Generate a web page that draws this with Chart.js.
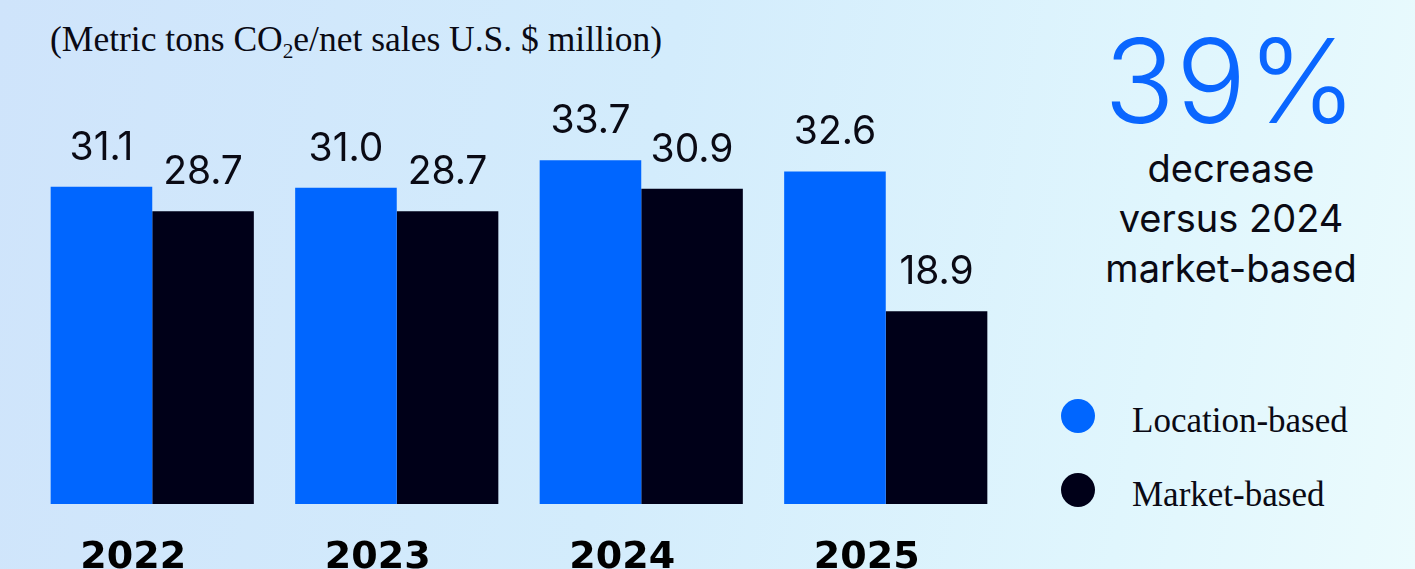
<!DOCTYPE html>
<html>
<head>
<meta charset="utf-8">
<script src="https://cdn.jsdelivr.net/npm/chart.js@4.4.1/dist/chart.umd.min.js"></script>
<style>
  html, body { margin: 0; padding: 0; }
  body {
    width: 1415px; height: 569px; overflow: hidden; position: relative;
    background: linear-gradient(100deg, #cfe4fb 0%, #d3ecfc 45%, #e0f6fd 80%, #ebfbfd 100%);
  }
  #subtitle {
    position: absolute; left: 50px; top: 18px; white-space: nowrap;
    font-family: "Liberation Serif", serif; font-size: 35.5px; color: #0a0a14;
  }
  #subtitle sub { font-size: 0.6em; vertical-align: -0.35em; line-height: 0; }
  #chartBox { position: absolute; left: 0; top: 0; width: 1020px; height: 600px; }
  #stat {
    position: absolute; left: 1050px; width: 362px; top: 0; text-align: center;
    font-family: Inter, "Noto Sans", sans-serif; color: #0a0a14;
  }
  #stat .big {
    position: absolute; left: 0; right: 0; top: 22px;
    font-size: 117px; font-weight: 300; color: #0a66ff; line-height: 1; letter-spacing: 1px;
  }
  #stat .desc {
    position: absolute; left: 0; right: 0; top: 143px;
    font-size: 38px; line-height: 50px; font-weight: 400;
  }
  #legend { position: absolute; left: 1061px; top: 399px; font-family: "Liberation Serif", serif; }
  .item { position: relative; height: 74px; }
  .dot { position: absolute; left: 0; top: 0; width: 34px; height: 34px; border-radius: 50%; }
  .lab { position: absolute; left: 71px; top: 2px; font-size: 35px; color: #0a0a14; white-space: nowrap; }
</style>
</head>
<body>
<div id="subtitle">(Metric tons CO<sub>2</sub>e/net sales U.S. $ million)</div>
<div id="chartBox"><canvas id="c"></canvas></div>
<div id="stat">
  <div class="big">39%</div>
  <div class="desc">decrease<br>versus 2024<br>market-based</div>
</div>
<div id="legend"></div>
<script>
// Emissions intensity per year, two accounting methods
const years = ['2022', '2023', '2024', '2025'];
const locationBased = [31.1, 31.0, 33.7, 32.6];
const marketBased = [28.7, 28.7, 30.9, 18.9];
const seriesNames = ['Location-based', 'Market-based'];
const seriesColors = ['#0066ff', '#000018'];

// Legend entries built from the series definitions
const legendEl = document.getElementById('legend');
seriesNames.forEach((name, i) => {
  const item = document.createElement('div');
  item.className = 'item';
  item.innerHTML = '<span class="dot" style="background:' + seriesColors[i] + '"></span><span class="lab">' + name + '</span>';
  legendEl.appendChild(item);
});

// Value labels drawn above each bar
const valueLabels = {
  id: 'valueLabels',
  afterDatasetsDraw(chart) {
    const ctx = chart.ctx;
    ctx.save();
    ctx.font = '400 39px Inter, "Noto Sans", sans-serif';
    ctx.fillStyle = '#0a0a14';
    ctx.textAlign = 'center';
    ctx.textBaseline = 'alphabetic';
    chart.data.datasets.forEach((ds, di) => {
      chart.getDatasetMeta(di).data.forEach((bar, i) => {
        ctx.fillText(ds.data[i].toFixed(1), bar.x, bar.y - 27);
      });
    });
    ctx.restore();
  }
};

function draw() {
  new Chart(document.getElementById('c'), {
    type: 'bar',
    data: {
      labels: years,
      datasets: [
        { label: seriesNames[0], data: locationBased, backgroundColor: seriesColors[0] },
        { label: seriesNames[1], data: marketBased, backgroundColor: seriesColors[1] }
      ]
    },
    options: {
      responsive: true,
      maintainAspectRatio: false,
      animation: false,
      layout: { padding: { left: 30, right: 12, top: 96, bottom: 0 } },
      datasets: { bar: { categoryPercentage: 0.831, barPercentage: 1.0, borderWidth: 0 } },
      plugins: { legend: { display: false }, tooltip: { enabled: false } },
      scales: {
        y: { display: false, min: 0, max: 40 },
        x: {
          grid: { display: false, drawTicks: false },
          border: { display: false },
          ticks: {
            padding: 31,
            labelOffset: -19,
            color: '#000000',
            font: { family: '"DejaVu Sans", sans-serif', size: 38, weight: 'bold' }
          },
          afterFit(scale) { scale.height = 96; }
        }
      }
    },
    plugins: [valueLabels]
  });
}

Promise.all([
  document.fonts.load('400 39px Inter'),
  document.fonts.load('bold 38px "DejaVu Sans"')
]).then(draw, draw);
</script>
</body>
</html>
